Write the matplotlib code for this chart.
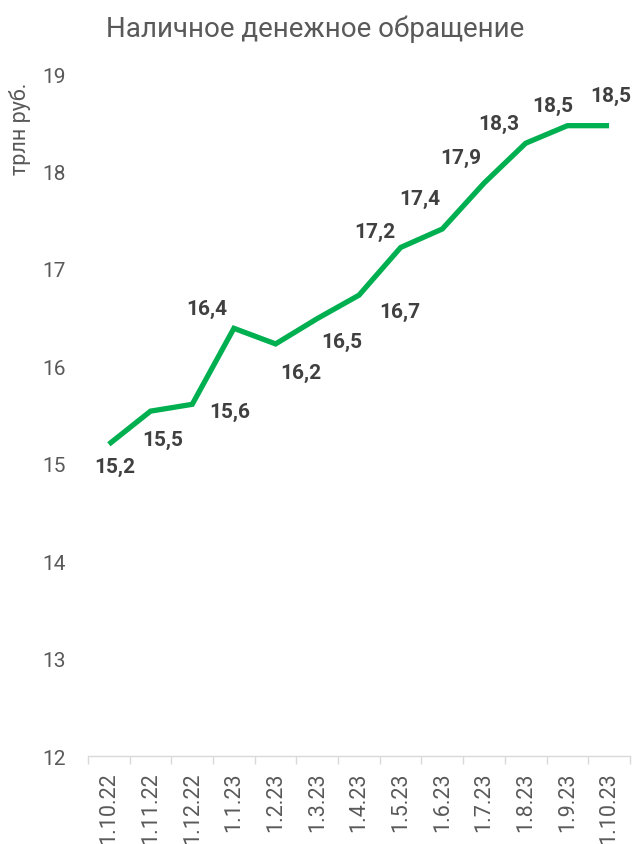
import matplotlib
matplotlib.use('Agg')
import matplotlib.pyplot as plt
import numpy as np

plt.rcParams['font.family'] = ['Roboto', 'DejaVu Sans']

dates = ['1.10.22', '1.11.22', '1.12.22', '1.1.23', '1.2.23', '1.3.23', '1.4.23',
         '1.5.23', '1.6.23', '1.7.23', '1.8.23', '1.9.23', '1.10.23']
cash = [15.20, 15.54, 15.61, 16.39, 16.23, 16.49, 16.73,
        17.22, 17.41, 17.88, 18.29, 18.47, 18.47]

# label offsets from each point, in pixels
labelOffsets = [(6, -22), (12, -28), (38, -7), (-27, 20), (25, -29), (24, -23), (41, -16),
                (-26, 16), (-23, 31), (-23, 26), (-27, 20), (-15, 20), (2, 30)]

fig = plt.figure(figsize=(6.35, 8.45), dpi=100)
ax = fig.add_axes([0.1386, 0.1041, 0.8534, 0.8071])

x = np.arange(len(dates))
ax.plot(x, cash, color='#00B050', linewidth=3.8, solid_joinstyle='miter', solid_capstyle='butt')

for xi, val, off in zip(x, cash, labelOffsets):
    ax.annotate(('%.1f' % val).replace('.', ','), (xi, val), xytext=off,
                textcoords='offset pixels', ha='center', va='center',
                fontsize=15, fontweight='bold', color='#404040')

ax.set_xlim(-0.5, len(dates) - 0.5)
ax.set_ylim(12, 19)
ax.set_yticks(range(12, 20))
ax.set_xticks(x)
ax.set_xticklabels(dates, rotation=90, fontsize=15.5, color='#595959')
ax.set_xticks(np.arange(-0.5, len(dates)), minor=True)
ax.tick_params(axis='x', which='major', length=0, pad=11)
ax.tick_params(axis='x', which='minor', length=6, color='#D9D9D9', width=1)
ax.tick_params(axis='y', length=0, pad=16, labelsize=15, labelcolor='#595959')

for side in ['top', 'right', 'left']:
    ax.spines[side].set_visible(False)
ax.spines['bottom'].set_color('#D9D9D9')
ax.spines['bottom'].set_linewidth(1)

fig.text(20 / 635, 1 - 83 / 845, 'трлн руб.', rotation=90, ha='center', va='top',
         fontsize=15.5, color='#595959')
fig.suptitle('Наличное денежное обращение', fontsize=20, color='#595959', y=0.982, x=0.497)

plt.savefig('out.png', dpi=100)
